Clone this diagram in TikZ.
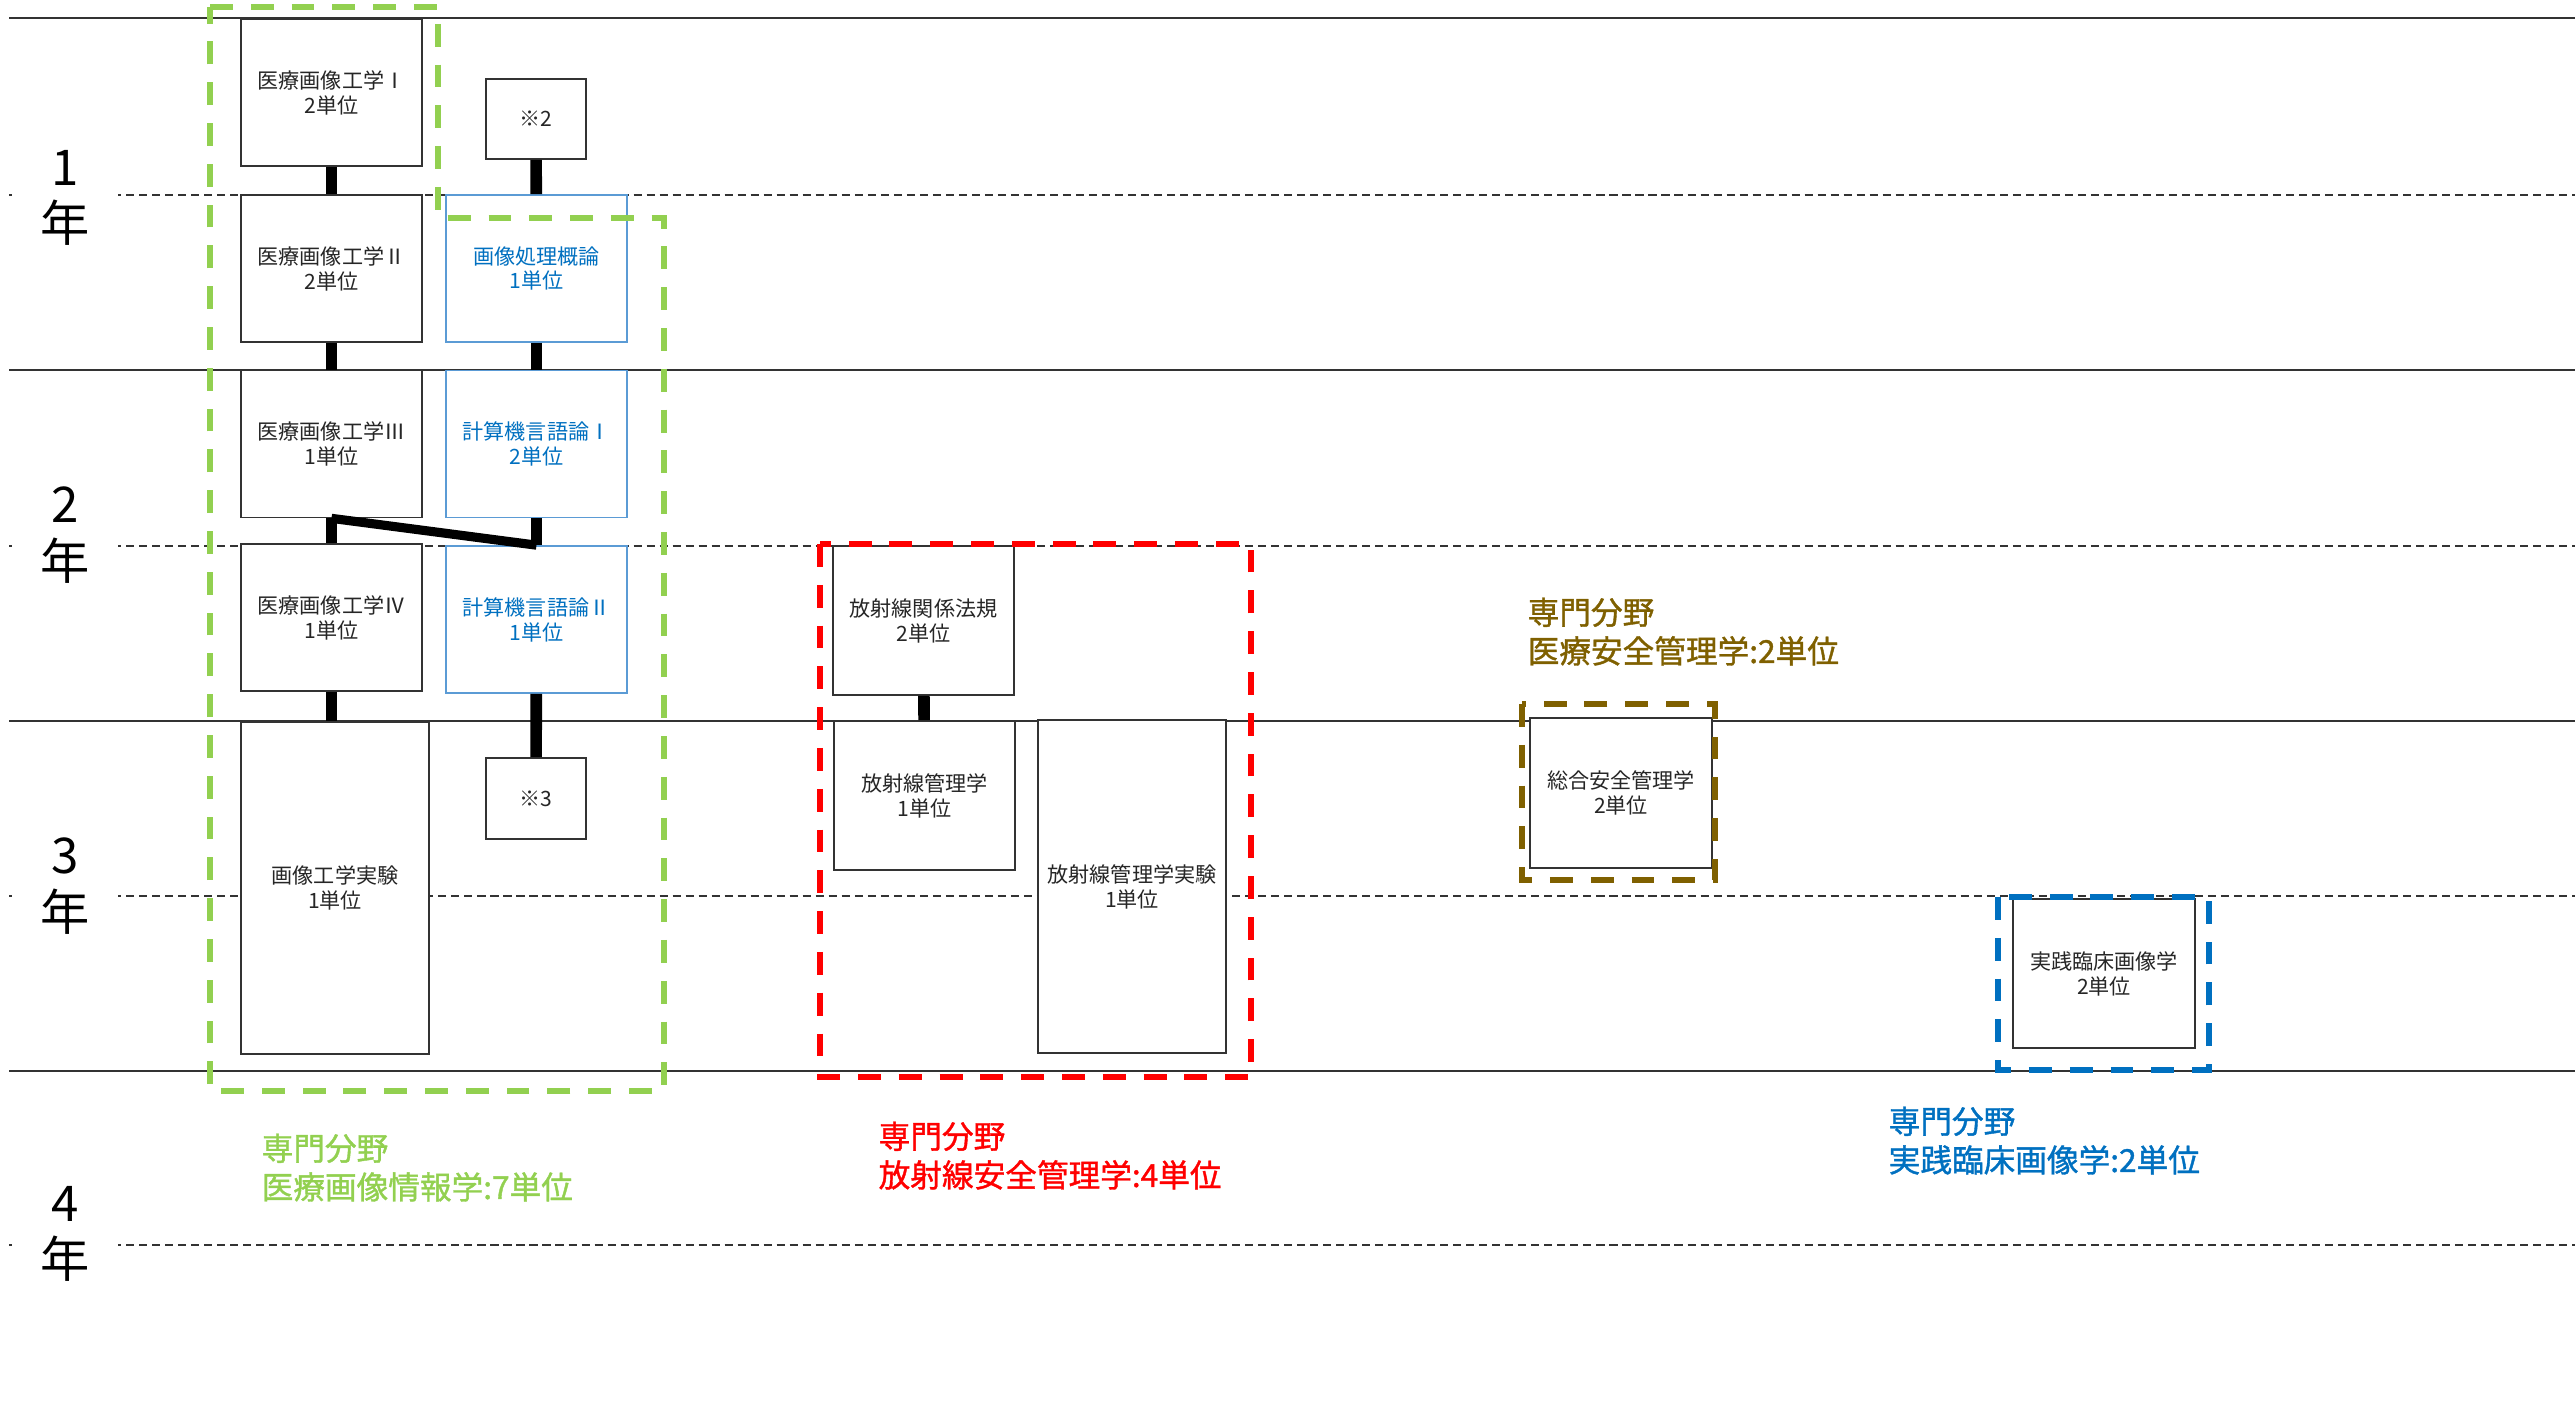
\documentclass[tikz,border=0pt]{standalone}
\usepackage{fontspec}
\setmainfont{Noto Sans CJK JP}
\newfontfamily\catfont{Noto Sans CJK JP}[FakeBold=1.2]
\definecolor{zoneGreen}{HTML}{92D050}
\definecolor{zoneRed}{HTML}{FF0000}
\definecolor{zoneBrown}{HTML}{7F6000}
\definecolor{zoneBlue}{HTML}{0070C0}
\definecolor{lineBlue}{HTML}{5B9BD5}

\begin{document}
\begin{tikzpicture}[x=0.01cm,y=-0.01cm,
  course/.style={draw=black!80,line width=0.45pt,fill=white,align=center,inner sep=0pt,font=\fontsize{6}{7.1}\selectfont,text=black!85},
  std/.style={course,minimum width=1.81cm,minimum height=1.47cm},
  bluecourse/.style={std,draw=lineBlue,text=zoneBlue},
  note/.style={course,minimum width=1cm,minimum height=0.8cm},
  link/.style={line width=3.3pt,black},
  band/.style={black!80,line width=0.6pt},
  half/.style={black!80,line width=0.4pt,dash pattern=on 2.3pt off 1.4pt},
  zone/.style={line width=1.6pt,dash pattern=on 6.5pt off 5.1pt},
  yearlab/.style={fill=white,align=center,inner sep=0pt,minimum width=1.06cm,font=\fontsize{14}{16}\selectfont},
  catlab/.style={align=left,inner sep=0pt,anchor=north west,font=\catfont\fontsize{9}{11}\selectfont}]
\useasboundingbox (0,0) rectangle (2575,1421);

% year bands
\foreach \y in {18,370,721,1071} \draw[band] (9,\y) -- (2575,\y);
\foreach \y in {195,546,896,1245} \draw[half] (9,\y) -- (2575,\y);
\node[yearlab] (y1) at (65,198) {1\\年};
\node[yearlab] (y2) at (65,535) {2\\年};
\node[yearlab] (y3) at (65,886) {3\\年};
\node[yearlab] (y4) at (65,1234) {4\\年};

% medical imaging
\node[std] (med1) at (331.5,92.5) {医療画像工学Ⅰ\\2単位};
\node[std] (med2) at (331.5,268.5) {医療画像工学Ⅱ\\2単位};
\node[std] (med3) at (331.5,444) {医療画像工学Ⅲ\\1単位};
\node[std] (med4) at (331.5,617.5) {医療画像工学Ⅳ\\1単位};
\node[course,minimum width=1.88cm,minimum height=3.32cm] (imglab) at (335,888) {画像工学実験\\1単位};
\node[note] (note2) at (536,119) {※2};
\node[bluecourse] (imgproc) at (536.5,268.5) {画像処理概論\\1単位};
\node[bluecourse] (lang1) at (536.5,444) {計算機言語論Ⅰ\\2単位};
\node[bluecourse] (lang2) at (536.5,619.5) {計算機言語論Ⅱ\\1単位};
\node[note,minimum height=0.81cm] (note3) at (536,798.5) {※3};

\draw[link] (med1) -- (med2);
\draw[link] (med2) -- (med3);
\draw[link] (med3) -- (med4);
\draw[link] (med4.south) -- (med4.south |- imglab.north);
\draw[link] (note2) -- (imgproc);
\draw[link] (imgproc) -- (lang1);
\draw[link] (lang1) -- (lang2);
\draw[link,line width=2.6pt] (med3.south) -- (lang2.north);
\draw[link] (lang2) -- (note3);

% radiation safety
\node[course,minimum width=1.81cm,minimum height=1.49cm] (law) at (923.5,620.5) {放射線関係法規\\2単位};
\node[course,minimum width=1.81cm,minimum height=1.49cm] (radmgmt) at (924.5,795.5) {放射線管理学\\1単位};
\node[course,minimum width=1.88cm,minimum height=3.33cm] (radlab) at (1132,886.5) {放射線管理学実験\\1単位};
\draw[link] (law) -- (radmgmt);

% other fields
\node[course,minimum width=1.82cm,minimum height=1.5cm] (safety) at (1621,793) {総合安全管理学\\2単位};
\node[course,minimum width=1.82cm,minimum height=1.49cm] (clinic) at (2104,973.5) {実践臨床画像学\\2単位};

% field frames
\draw[zone,zoneGreen] (210,7) -- (438,7) -- (438,218) -- (664,218) -- (664,1091) -- (210,1091) -- cycle;
\draw[zone,zoneRed] (820,544) rectangle (1251,1077);
\draw[zone,zoneBrown] (1522,704) rectangle (1715,880);
\draw[zone,zoneBlue] (1998,897) rectangle (2209,1070);

\node[catlab,text=zoneGreen] (catimg) at (261,1133) {専門分野\\医療画像情報学:7単位};
\node[catlab,text=zoneRed] (catrad) at (878,1121) {専門分野\\放射線安全管理学:4単位};
\node[catlab,text=zoneBrown] (catsafe) at (1527,597) {専門分野\\医療安全管理学:2単位};
\node[catlab,text=zoneBlue] (catclin) at (1888,1106) {専門分野\\実践臨床画像学:2単位};

\end{tikzpicture}
\end{document}
